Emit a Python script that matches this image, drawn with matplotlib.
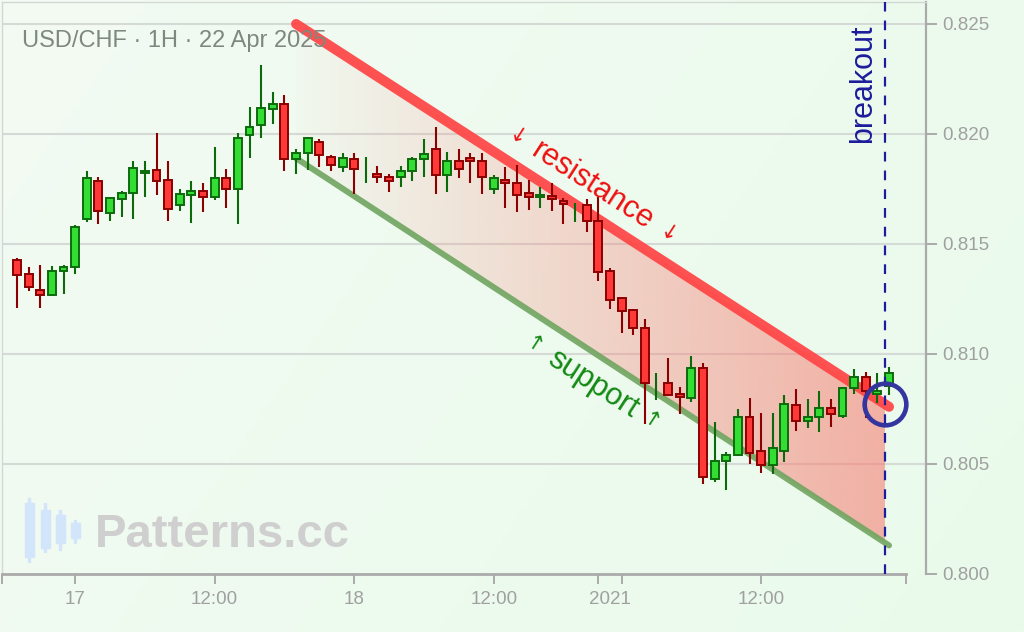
import numpy as np
import matplotlib
matplotlib.use("Agg")
import matplotlib.pyplot as plt
from matplotlib.patches import Polygon, Rectangle

plt.rcParams["font.family"] = ["Liberation Sans", "DejaVu Sans"]
plt.rcParams["lines.scale_dashes"] = False

# ── Data: USD/CHF hourly candles ────────────────────────────────────────────
opens = [0.81427, 0.81362, 0.81291, 0.81267, 0.81377, 0.81397, 0.81612, 0.81788,
         0.81642, 0.81703, 0.81733, 0.81821, 0.81836, 0.81791, 0.81677, 0.81723,
         0.81742, 0.81715, 0.81799, 0.81750, 0.81995, 0.82041, 0.82114, 0.82135,
         0.81886, 0.81915, 0.81962, 0.81897, 0.81852, 0.81886, 0.81830, 0.81817,
         0.81806, 0.81806, 0.81833, 0.81886, 0.81932, 0.81814, 0.81879, 0.81893,
         0.81879, 0.81750, 0.81791, 0.81779, 0.81733, 0.81715, 0.81717, 0.81697,
         0.81664, 0.81677, 0.81606, 0.81377, 0.81253, 0.81200, 0.81117, 0.80882,
         0.80870, 0.80817, 0.80801, 0.80938, 0.80432, 0.80512, 0.80541, 0.80715,
         0.80561, 0.80496, 0.80559, 0.80768, 0.80697, 0.80715, 0.80753, 0.80720,
         0.80844, 0.80897, 0.80818, 0.80855]
highs = [0.81438, 0.81394, 0.81405, 0.81401, 0.81405, 0.81586, 0.81832, 0.81803,
         0.81715, 0.81741, 0.81879, 0.81879, 0.82006, 0.81879, 0.81749, 0.81786,
         0.81776, 0.81940, 0.81841, 0.82003, 0.82121, 0.82314, 0.82192, 0.82177,
         0.81932, 0.81988, 0.81976, 0.81905, 0.81912, 0.81912, 0.81897, 0.81856,
         0.81818, 0.81856, 0.81897, 0.81976, 0.82030, 0.81920, 0.81930, 0.81912,
         0.81912, 0.81814, 0.81849, 0.81859, 0.81791, 0.81758, 0.81779, 0.81708,
         0.81685, 0.81703, 0.81715, 0.81390, 0.81261, 0.81204, 0.81158, 0.80912,
         0.80983, 0.80851, 0.80991, 0.80961, 0.80689, 0.80556, 0.80749, 0.80802,
         0.80731, 0.80731, 0.80814, 0.80841, 0.80794, 0.80832, 0.80794, 0.80851,
         0.80932, 0.80920, 0.80912, 0.80940]
lows = [0.81209, 0.81288, 0.81208, 0.81265, 0.81271, 0.81362, 0.81599, 0.81590,
        0.81606, 0.81624, 0.81614, 0.81715, 0.81723, 0.81606, 0.81652, 0.81597,
        0.81644, 0.81700, 0.81662, 0.81590, 0.81890, 0.81980, 0.82044, 0.81833,
        0.81817, 0.81836, 0.81852, 0.81833, 0.81826, 0.81726, 0.81778, 0.81779,
        0.81735, 0.81760, 0.81788, 0.81806, 0.81726, 0.81735, 0.81799, 0.81779,
        0.81726, 0.81726, 0.81662, 0.81644, 0.81655, 0.81662, 0.81651, 0.81591,
        0.81598, 0.81553, 0.81333, 0.81204, 0.81097, 0.81085, 0.80681, 0.80791,
        0.80809, 0.80727, 0.80783, 0.80409, 0.80418, 0.80382, 0.80538, 0.80500,
        0.80461, 0.80455, 0.80508, 0.80651, 0.80662, 0.80644, 0.80670, 0.80708,
        0.80818, 0.80708, 0.80776, 0.80814]
closes = [0.81359, 0.81303, 0.81268, 0.81379, 0.81397, 0.81579, 0.81799, 0.81650,
          0.81708, 0.81733, 0.81844, 0.81833, 0.81786, 0.81659, 0.81726, 0.81742,
          0.81715, 0.81799, 0.81750, 0.81980, 0.82033, 0.82117, 0.82135, 0.81886,
          0.81915, 0.81980, 0.81905, 0.81859, 0.81890, 0.81841, 0.81830, 0.81803,
          0.81788, 0.81833, 0.81886, 0.81908, 0.81814, 0.81879, 0.81841, 0.81877,
          0.81803, 0.81799, 0.81779, 0.81723, 0.81712, 0.81724, 0.81705, 0.81680,
          0.81664, 0.81606, 0.81374, 0.81245, 0.81197, 0.81117, 0.80870, 0.80882,
          0.80814, 0.80803, 0.80938, 0.80442, 0.80512, 0.80541, 0.80715, 0.80549,
          0.80496, 0.80572, 0.80771, 0.80697, 0.80715, 0.80753, 0.80727, 0.80844,
          0.80897, 0.80832, 0.80832, 0.80915]

# channel lines (candle index, price)
res_x = [24, 75]
res_y = [0.8250, 0.8076]
sup_x = [24, 75]
sup_y = [0.8189, 0.8013]
breakout_x = 74.65

x_ticks = [-1.29, 5, 17, 29, 41, 50, 52, 64, 76.46]
x_labels = ["", "17", "12:00", "18", "12:00", "", "", "12:00", ""]
year_pos = 51
year_label = "2021"
y_ticks = [0.800, 0.805, 0.810, 0.815, 0.820, 0.825]

W, H = 1024, 632
fig = plt.figure(figsize=(W / 100, H / 100), dpi=100)

# ── Background gradient ─────────────────────────────────────────────────────
bg = fig.add_axes([0, 0, 1, 1], zorder=-5)
gx, gy = np.meshgrid(np.linspace(0, 1, 200), np.linspace(0, 1, 200))
t = (0.7 * gx + 0.3 * gy)[..., None]
c0 = np.array([243, 250, 243]) / 255
c1 = np.array([233, 251, 235]) / 255
bg.imshow(c0 * (1 - t) + c1 * t, aspect="auto", extent=[0, 1, 0, 1], origin="upper")
bg.axis("off")

ax = fig.add_axes([2 / W, 58 / H, 924 / W, 572 / H])
ax.set_facecolor("none")
ax.set_xlim(-1.29, 78.18)
ax.set_ylim(0.800, 0.826)

for side in ("top", "left"):
    ax.spines[side].set_color("#d4d8d4")
    ax.spines[side].set_linewidth(1)
ax.spines["bottom"].set_color("#aaaaaa")
ax.spines["bottom"].set_linewidth(2)
ax.spines["bottom"].set_bounds(-1.29, 76.46)
ax.spines["right"].set_color("#aaaaaa")
ax.spines["right"].set_linewidth(1.6)

ax.set_xticks(x_ticks)
ax.set_xticklabels(x_labels)
ax.set_xticks([year_pos], minor=True)
ax.set_xticklabels([year_label], minor=True)
ax.tick_params(axis="x", which="major", length=7.5, width=1.4, color="#aaaaaa",
               labelcolor="#a0a0a0", labelsize=13.5, pad=5)
ax.tick_params(axis="x", which="minor", length=0, labelcolor="#a0a0a0",
               labelsize=13.5, pad=12.5)
ax.yaxis.tick_right()
ax.set_yticks(y_ticks)
ax.set_yticklabels([f"{v:.3f}" for v in y_ticks])
ax.tick_params(axis="y", length=8, width=1.4, color="#aaaaaa",
               labelcolor="#a0a0a0", labelsize=13.5, pad=4)

for v in y_ticks[1:]:
    ax.axhline(v, color="#d6dad6", lw=1.5, zorder=0)

# ── Channel fill (gradient) ─────────────────────────────────────────────────
def res_at(x):
    return np.interp(x, res_x, res_y)

def sup_at(x):
    return np.interp(x, sup_x, sup_y)

poly = Polygon([(res_x[0], res_y[0]), (breakout_x, res_at(breakout_x)),
                (breakout_x, sup_at(breakout_x)), (sup_x[0], sup_y[0])],
               closed=True, facecolor="none", edgecolor="none")
ax.add_patch(poly)
ramp = np.linspace(0.03, 1, 256)
img = np.zeros((1, 256, 4))
img[..., 0] = 248 / 255
img[..., 1] = 118 / 255
img[..., 2] = 108 / 255
img[..., 3] = 0.56 * ramp
im = ax.imshow(img, extent=[res_x[0], breakout_x, 0.800, 0.826], aspect="auto",
               zorder=1, interpolation="bilinear")
im.set_clip_path(poly)

ax.plot(res_x, res_y, color="#ff4444", lw=7.2, alpha=0.92,
        solid_capstyle="round", zorder=2)
ax.plot(sup_x, sup_y, color="#70a560", lw=4.3, alpha=0.9,
        solid_capstyle="round", zorder=2)

# ── Candles ─────────────────────────────────────────────────────────────────
o = np.array(opens)
h = np.array(highs)
l = np.array(lows)
c = np.array(closes)
idx = np.arange(len(o))
up = c >= o
wick_col = np.where(up, "#0b6b0b", "#8b0000")
ax.vlines(idx, l, h, colors=wick_col, lw=1.5, zorder=3)
body = np.abs(c - o) > 0
ax.bar(idx[body & up], (c - o)[body & up], bottom=o[body & up], width=0.68,
       color="#33dd33", edgecolor="#0b6b0b", linewidth=1.4, zorder=4)
ax.bar(idx[body & ~up], (o - c)[body & ~up], bottom=c[body & ~up], width=0.68,
       color="#ff3838", edgecolor="#8b0000", linewidth=1.4, zorder=4)

# ── Breakout marker ─────────────────────────────────────────────────────────
ax.axvline(breakout_x, color="#1c1c9c", lw=1.6, dashes=(7, 6.5), zorder=5)
ax.plot([breakout_x], [res_at(breakout_x)], "o", ms=30, mfc="none",
        mec="#3535a0", mew=3.3, zorder=6)
ax.text(72.76, 0.8223, "breakout", rotation=90, ha="center", va="center",
        fontsize=22, color="#1c1c9c", zorder=6)

# ── Channel labels along the lines ──────────────────────────────────────────
p1 = ax.transData.transform((res_x[0], res_y[0]))
p2 = ax.transData.transform((res_x[1], res_y[1]))
ang = np.degrees(np.arctan2(p2[1] - p1[1], p2[0] - p1[0]))

arrow_font = ["DejaVu Sans"]
for xx, txt, fs, fam in [(43.0, "\u2193", 15, arrow_font),
                         (49.5, "resistance", 22, None),
                         (56.0, "\u2193", 15, arrow_font)]:
    ax.text(xx, res_at(xx) + 0.00133, txt, rotation=ang, rotation_mode="anchor",
            ha="center", va="center", fontsize=fs, color="#ee1111", zorder=6,
            family=fam)
for xx, txt, fs, fam in [(44.5, "\u2191", 15, arrow_font),
                         (49.5, "support", 22, None),
                         (54.6, "\u2191", 15, arrow_font)]:
    ax.text(xx, sup_at(xx) - 0.00144, txt, rotation=ang, rotation_mode="anchor",
            ha="center", va="center", fontsize=fs, color="#138a13", zorder=6,
            family=fam)

# ── Title and watermark ─────────────────────────────────────────────────────
fig.text(22 / W, 1 - 41 / H, "USD/CHF \u00b7 1H \u00b7 22 Apr 2025", fontsize=17,
         color="#7e887e", va="center", ha="left")
fig.text(95 / W, 1 - 535 / H, "Patterns.cc", fontsize=34, fontweight="bold",
         color="#cfcfcf", va="center", ha="left")

# logo: four light blue candles
for cx, wt, wb, bt, bb in [(29, 498, 562, 503, 557), (45, 503, 552, 510, 548),
                           (60, 510, 550, 515, 543), (75, 520, 543, 523, 538)]:
    fig.add_artist(Rectangle(((cx - 1) / W, 1 - wb / H), 2 / W, (wb - wt) / H,
                             transform=fig.transFigure, color="#d2e5fb", zorder=-1))
    fig.add_artist(Rectangle(((cx - 4.5) / W, 1 - bb / H), 9 / W, (bb - bt) / H,
                             transform=fig.transFigure, color="#d2e5fb", zorder=-1))

fig.savefig("out.png", dpi=100)
